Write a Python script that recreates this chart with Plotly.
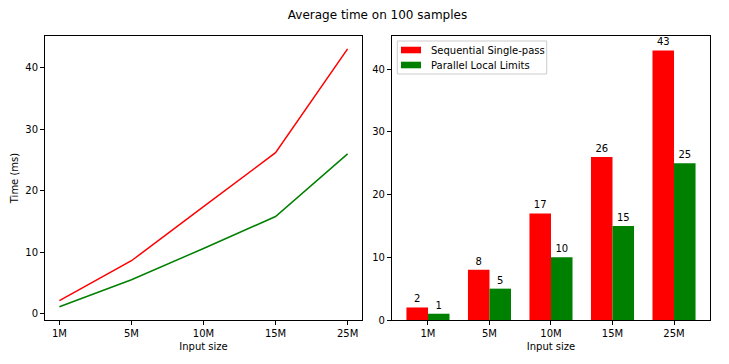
import plotly.graph_objects as go

categories = ["1M", "5M", "10M", "15M", "25M"]
seq_line = [2.1, 8.6, 17.4, 26.2, 43.1]
par_line = [1.1, 5.5, 10.6, 15.8, 26.0]
seq_bar = [2, 8, 17, 26, 43]
par_bar = [1, 5, 10, 15, 25]
y_ticks = [0, 10, 20, 30, 40]
series_names = ["Sequential Single-pass", "Parallel Local Limits"]

RED = "#ff0000"
GREEN = "#008000"
FONT = "DejaVu Sans"
TXT = "#000000"

xi = list(range(len(categories)))
bw = 0.35

fig = go.Figure()
fig.add_trace(go.Scatter(x=xi, y=seq_line, mode="lines", line=dict(color=RED, width=1.5),
                         xaxis="x", yaxis="y", showlegend=False, name=series_names[0]))
fig.add_trace(go.Scatter(x=xi, y=par_line, mode="lines", line=dict(color=GREEN, width=1.5),
                         xaxis="x", yaxis="y", showlegend=False, name=series_names[1]))

for vals, off, col, nm in [(seq_bar, -bw / 2, RED, series_names[0]), (par_bar, bw / 2, GREEN, series_names[1])]:
    fig.add_trace(go.Bar(x=[i + off for i in xi], y=vals, width=bw,
                         marker=dict(color=col, line=dict(width=0)), name=nm,
                         text=[str(v) for v in vals], textposition="outside",
                         textfont=dict(color=TXT, size=10, family=FONT), cliponaxis=False,
                         xaxis="x2", yaxis="y2", showlegend=False))

# legend box (matplotlib-style) inside the right axes
fig.add_shape(type="rect", xref="x2 domain", yref="y2 domain", x0=0.0167, x1=0.4865, y0=0.8662, y1=0.9824,
              fillcolor="rgba(255,255,255,0.8)", line=dict(color="#cccccc", width=1), layer="above")
for k, (col, nm) in enumerate([(RED, series_names[0]), (GREEN, series_names[1])]):
    yc = [0.9507, 0.8979][k]
    fig.add_shape(type="rect", xref="x2 domain", yref="y2 domain", x0=0.0283, x1=0.0912,
                  y0=yc - 0.0116, y1=yc + 0.0116, fillcolor=col, line=dict(width=0), layer="above")
    fig.add_annotation(xref="x2 domain", yref="y2 domain", x=0.1173, y=yc - 0.001, text=nm, showarrow=False,
                       xanchor="left", yanchor="middle", font=dict(family=FONT, size=10, color=TXT))

axis_common = dict(showline=True, linecolor="#000", linewidth=1, mirror=True, ticks="outside",
                   ticklen=4, tickcolor="#000", tickwidth=1, showgrid=False, zeroline=False,
                   tickfont=dict(family=FONT, size=10, color=TXT))

fig.update_layout(
    width=729, height=364,
    margin=dict(l=45, r=19, t=36, b=44),
    paper_bgcolor="white", plot_bgcolor="white",
    font=dict(family=FONT, size=10, color=TXT),
    title=dict(text="Average time on 100 samples", x=0.5, xref="paper", y=0.958, yanchor="middle",
               font=dict(family=FONT, size=12, color=TXT)),
    barmode="overlay",
    showlegend=False,
    xaxis=dict(domain=[0, 0.4767], range=[-0.2, 4.2], tickvals=xi, ticktext=categories,
               title=dict(text="Input size", standoff=4, font=dict(size=10)), **axis_common),
    yaxis=dict(range=[-1.05, 45.2], tickvals=y_ticks,
               title=dict(text="Time (ms)", standoff=4, font=dict(size=10)), **axis_common),
    xaxis2=dict(domain=[0.5218, 1], range=[-0.585, 4.585], tickvals=xi, ticktext=categories,
                title=dict(text="Input size", standoff=4, font=dict(size=10)), anchor="y2", **axis_common),
    yaxis2=dict(range=[0, 45.3], tickvals=y_ticks, anchor="x2", **axis_common),
)

fig.write_html("out.html", config={"displayModeBar": False},
               post_script="document.body.style.margin='0px';document.body.style.overflow='hidden';")
